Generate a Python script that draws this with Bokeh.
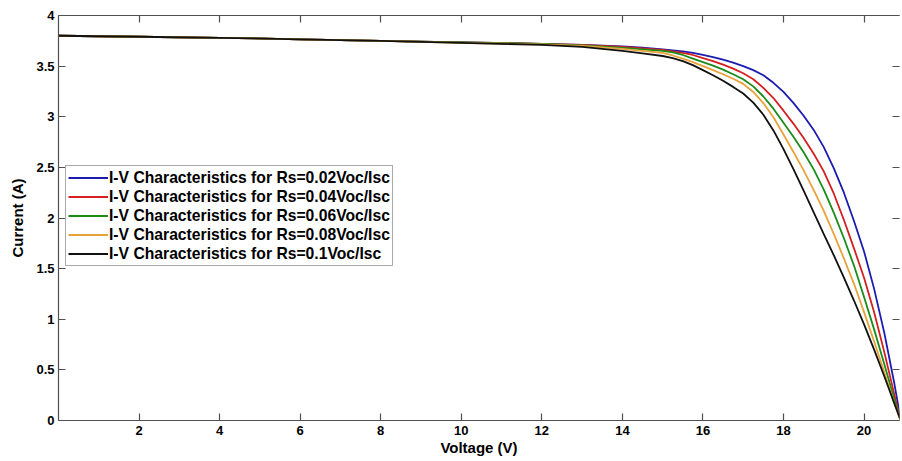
from bokeh.plotting import figure
from bokeh.models import (LinearAxis, FixedTicker, Range1d, Legend, LegendItem,
                          CustomLabelingPolicy)
from bokeh.embed import file_html
from bokeh.resources import INLINE

# ---- data ----
voltage = [0, 2, 4, 6, 8, 10, 12, 13, 14, 14.5,
           15, 15.25, 15.5, 15.75, 16, 16.25, 16.5, 16.75, 17, 17.25, 17.5, 17.75,
           18, 18.25, 18.5, 18.75, 19, 19.25, 19.5, 19.75, 20, 20.25, 20.5, 20.75,
           20.9]

i_rs002 = [3.80, 3.79, 3.78, 3.765, 3.75, 3.735, 3.72, 3.71, 3.695, 3.683,
           3.665, 3.655, 3.645, 3.63, 3.61, 3.59, 3.565, 3.535, 3.50, 3.46, 3.41, 3.335,
           3.245, 3.135, 3.01, 2.87, 2.70, 2.49, 2.25, 1.97, 1.67, 1.30, 0.87, 0.37,
           0.03]
i_rs004 = [3.80, 3.79, 3.78, 3.765, 3.75, 3.735, 3.72, 3.71, 3.69, 3.675,
           3.66, 3.645, 3.63, 3.61, 3.58, 3.55, 3.515, 3.475, 3.43, 3.37, 3.285, 3.185,
           3.06, 2.93, 2.79, 2.635, 2.46, 2.24, 1.98, 1.70, 1.41, 1.07, 0.68, 0.26,
           0.01]
i_rs006 = [3.80, 3.79, 3.78, 3.765, 3.75, 3.735, 3.72, 3.705, 3.68, 3.665,
           3.65, 3.635, 3.61, 3.575, 3.54, 3.505, 3.465, 3.42, 3.37, 3.30, 3.20, 3.08,
           2.94, 2.80, 2.65, 2.48, 2.28, 2.05, 1.80, 1.53, 1.22, 0.90, 0.56, 0.21,
           0.01]
i_rs008 = [3.80, 3.79, 3.78, 3.765, 3.75, 3.73, 3.715, 3.70, 3.67, 3.65,
           3.63, 3.605, 3.575, 3.54, 3.50, 3.46, 3.42, 3.375, 3.325, 3.245, 3.135, 2.995,
           2.825, 2.65, 2.47, 2.275, 2.07, 1.84, 1.60, 1.35, 1.07, 0.78, 0.48, 0.17,
           0.01]
i_rs010 = [3.80, 3.79, 3.78, 3.765, 3.75, 3.73, 3.71, 3.69, 3.65, 3.625,
           3.60, 3.58, 3.55, 3.51, 3.46, 3.41, 3.355, 3.295, 3.23, 3.14, 3.02, 2.865,
           2.68, 2.48, 2.27, 2.055, 1.84, 1.63, 1.41, 1.185, 0.95, 0.70, 0.44, 0.17,
           0.01]

series_labels = [
    "I-V Characteristics for Rs=0.02Voc/Isc",
    "I-V Characteristics for Rs=0.04Voc/Isc",
    "I-V Characteristics for Rs=0.06Voc/Isc",
    "I-V Characteristics for Rs=0.08Voc/Isc",
    "I-V Characteristics for Rs=0.1Voc/Isc",
]
series_values = [i_rs002, i_rs004, i_rs006, i_rs008, i_rs010]
series_colors = ["#1c1cb0", "#d42020", "#1a8c1a", "#e8a23a", "#111111"]

x_ticks = [2, 4, 6, 8, 10, 12, 14, 16, 18, 20]
y_ticks = [0, 0.5, 1, 1.5, 2, 2.5, 3, 3.5, 4]
y_tick_labels = ["0", "0.5", "1", "1.5", "2", "2.5", "3", "3.5", "4"]

FONT = "Liberation Sans"
AX_COLOR = "#505050"

p = figure(width=902, height=461, output_backend="svg", toolbar_location=None,
           x_range=Range1d(0, 20.88), y_range=Range1d(0, 4),
           min_border_left=58, min_border_right=1, min_border_top=15,
           min_border_bottom=41)
p.background_fill_color = "white"
p.border_fill_color = "white"
p.outline_line_color = None
p.xgrid.visible = False
p.ygrid.visible = False

hide_labels = CustomLabelingPolicy(code="""
    for (let i = 0; i < indices.size; i++) { indices.unset(i) }
    return indices
""")

def style_axis(ax, labels=True):
    ax.axis_line_color = AX_COLOR
    ax.axis_line_width = 1.2
    ax.major_tick_line_color = AX_COLOR
    ax.major_tick_line_width = 1.2
    ax.major_tick_in = 7
    ax.major_tick_out = 0
    ax.minor_tick_line_color = None
    ax.major_label_text_font = FONT
    ax.major_label_text_font_style = "bold"
    ax.major_label_text_color = "black"
    ax.axis_label_text_font = FONT
    ax.axis_label_text_font_style = "bold"
    ax.axis_label_text_font_size = "15px"
    ax.axis_label_text_color = "black"
    if labels:
        ax.major_label_text_font_size = "13px"
    else:
        ax.major_label_text_font_size = "0.1px"
        ax.major_label_standoff = 0
        ax.axis_label_standoff = 0
        ax.major_label_policy = hide_labels

xa = p.xaxis[0]
xa.ticker = FixedTicker(ticks=x_ticks)
xa.axis_label = "Voltage (V)"
style_axis(xa)
xa.major_label_standoff = 5
xa.axis_label_standoff = 1

ya = p.yaxis[0]
ya.ticker = FixedTicker(ticks=y_ticks)
ya.major_label_overrides = {t: l for t, l in zip(y_ticks, y_tick_labels)}
ya.axis_label = "Current (A)"
style_axis(ya)
ya.major_label_standoff = 4
ya.axis_label_standoff = 7

top = LinearAxis(ticker=FixedTicker(ticks=x_ticks))
style_axis(top, labels=False)
p.add_layout(top, "above")

right = LinearAxis(ticker=FixedTicker(ticks=y_ticks))
style_axis(right, labels=False)
right.axis_line_color = None
p.add_layout(right, "right")

items = []
for lab, vals, col in zip(series_labels, series_values, series_colors):
    r = p.line(voltage, vals, line_color=col, line_width=1.8)
    items.append(LegendItem(label=lab, renderers=[r]))

legend = Legend(items=items, location=(7, 154))
legend.label_text_font = FONT
legend.label_text_font_style = "bold"
legend.label_text_font_size = "15.7px"
legend.label_text_color = "black"
legend.glyph_width = 40
legend.glyph_height = 19
legend.label_height = 19
legend.label_standoff = 1
legend.spacing = 0
legend.padding = 2
legend.margin = 0
legend.border_line_color = "#555555"
legend.border_line_width = 1
legend.background_fill_color = "white"
legend.background_fill_alpha = 1
p.add_layout(legend)

open("out.html", "w").write(file_html(p, INLINE))
